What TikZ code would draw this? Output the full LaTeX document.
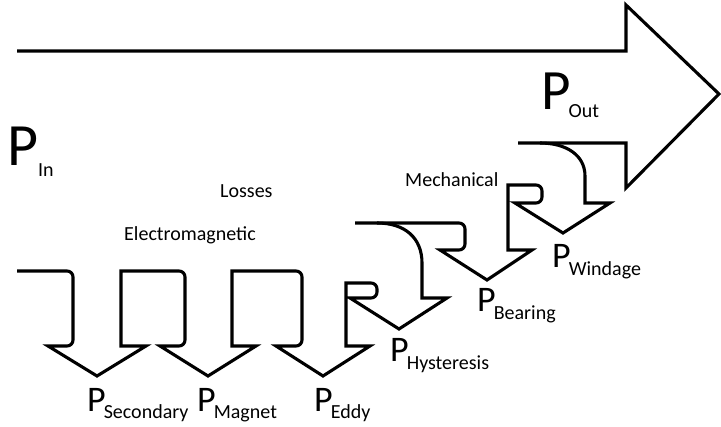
\documentclass[tikz,border=0pt]{standalone}
\usepackage{fontspec}
\setmainfont{Carlito}
\usepackage{tikz}
\usetikzlibrary{positioning}

% P with a dropped subscript: size of P, kern, drop, subscript
\newcommand{\pwr}[4]{{\fontsize{#1}{#1}\selectfont P}\kern#2\raisebox{-#3}{#4}}

\begin{document}
\begin{tikzpicture}[x=1pt,y=-1pt,
  flow/.style={line width=3.1pt,line join=miter},
  txt/.style={font=\fontsize{20}{20}\selectfont,inner sep=0pt,anchor=base west}]
\useasboundingbox (0,0) rectangle (721,427);
\def\rc{6pt}
% main power band and output arrow
\draw[flow] (518,143) -- (626,143) -- (626,188) -- (719,94) -- (626,5) -- (626,51) -- (17,51);
% electromagnetic losses: secondary, magnet, eddy, then hysteresis
\draw[flow] (17,271) [rounded corners=\rc] -- (73,271) -- (73,346) [sharp corners]
  -- (48,346) -- (97,376) -- (146,346) -- (121,346) -- (121,271) [rounded corners=\rc]
  -- (185,271) -- (185,346) [sharp corners]
  -- (160,346) -- (208,376) -- (256,346) -- (232,346) -- (232,271) [rounded corners=\rc]
  -- (302,271) -- (302,346) [sharp corners]
  -- (276,346) -- (323,376) -- (370,346) -- (346,346) -- (346,283) [rounded corners=\rc]
  -- (377,283) -- (377,298) [sharp corners]
  -- (350,298) -- (399,329) -- (447,298) -- (422,298) -- (422,263)
  .. controls (422,238) and (405,223) .. (377,223);
% mechanical losses: bearing, windage
\draw[flow] (355,223) [rounded corners=\rc] -- (465,223) -- (465,250) [sharp corners]
  -- (440,250) -- (487,280) -- (532,250) -- (508,250) -- (508,185) [rounded corners=\rc]
  -- (542,185) -- (542,203) [sharp corners]
  -- (515,203) -- (563,233) -- (610,203) -- (585,203) -- (585,176)
  .. controls (585,155) and (566,143) .. (540,143);
% labels
\node[txt] (pin) at (7,166) {\pwr{60}{0pt}{11pt}{In}};
\node[txt] (pout) at (541,110) {\pwr{57}{-2pt}{8pt}{Out}};
\node[txt] (losses) at (220,198) {Losses};
\node[txt] (em) at (124,241) {Electromagnetic};
\node[txt] (mech) at (405,187) {Mechanical};
\node[txt] (psec) at (87,412) {\pwr{36}{-2pt}{7pt}{Secondary}};
\node[txt] (pmag) at (197,412) {\pwr{36}{-2pt}{7pt}{Magnet}};
\node[txt] (peddy) at (314,412) {\pwr{36}{-2pt}{7pt}{Eddy}};
\node[txt] (phys) at (390,362) {\pwr{36}{-2pt}{8pt}{Hysteresis}};
\node[txt] (pbear) at (477,312) {\pwr{36}{-2pt}{8pt}{Bearing}};
\node[txt] (pwind) at (552,268) {\pwr{36}{-2pt}{8pt}{Windage}};
\end{tikzpicture}
\end{document}
